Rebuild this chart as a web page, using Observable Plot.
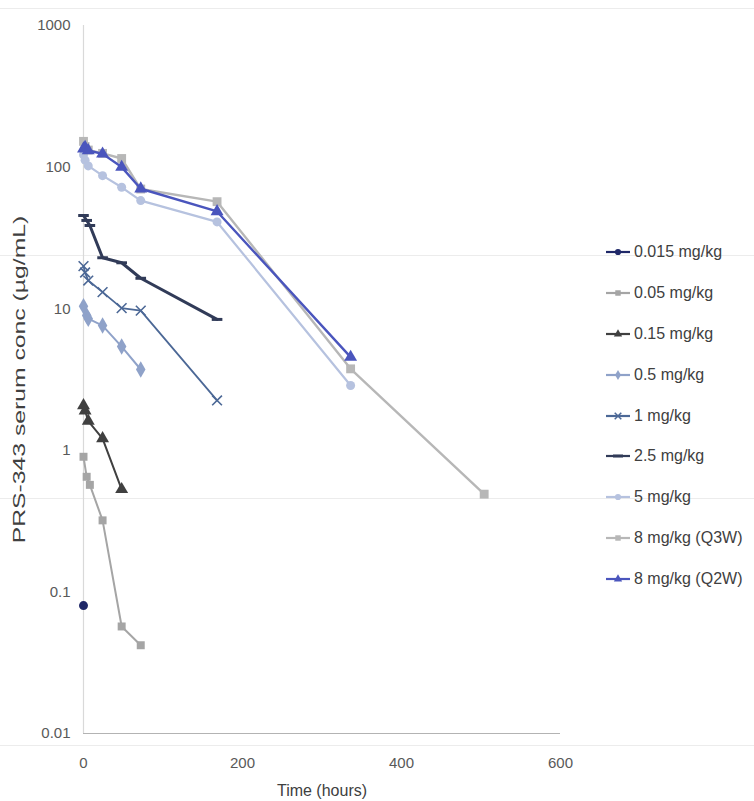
<!DOCTYPE html>
<html>
<head>
<meta charset="utf-8">
<script src="https://cdn.jsdelivr.net/npm/d3@7"></script>
<script src="https://cdn.jsdelivr.net/npm/@observablehq/plot@0.6"></script>
<style>
  html, body { margin: 0; padding: 0; background: #fff; }
  #wrap { position: relative; width: 754px; height: 801px; overflow: hidden; font-family: "Liberation Sans", Arial, sans-serif; }
  .seam { position: absolute; left: 0; width: 754px; height: 1px; background: #ececec; }
  #chart { position: absolute; left: 0; top: 0; }
  #legend { position: absolute; left: 604px; top: 232px; }
  .item { height: 40.8px; display: flex; align-items: center; font-size: 16px; color: #404040; white-space: nowrap; }
  .item svg { margin-right: 2px; }
</style>
</head>
<body>
<div id="wrap">
  <div class="seam" style="top:8px"></div>
  <div class="seam" style="top:255px"></div>
  <div class="seam" style="top:498px"></div>
  <div class="seam" style="top:745px"></div>
  <div id="chart"></div>
  <div id="legend"></div>
</div>
<script>
// ---- data ----
const seriesNames = ["0.015 mg/kg","0.05 mg/kg","0.15 mg/kg","0.5 mg/kg","1 mg/kg","2.5 mg/kg","5 mg/kg","8 mg/kg (Q3W)","8 mg/kg (Q2W)"];

const t_0015 = [0];
const c_0015 = [0.08];
const t_005 = [0, 4, 8, 24, 48, 72];
const c_005 = [0.9, 0.65, 0.57, 0.32, 0.057, 0.042];
const t_015 = [0, 2, 6, 24, 48];
const c_015 = [2.07, 1.9, 1.61, 1.21, 0.53];
const t_05 = [0, 4, 6, 24, 48, 72];
const c_05 = [10.4, 8.95, 8.5, 7.6, 5.4, 3.72];
const t_1 = [0, 2, 6, 24, 48, 72, 168];
const c_1 = [20, 18, 15.8, 13.1, 10.1, 9.7, 2.25];
const t_25 = [0, 4, 8, 24, 48, 72, 168];
const c_25 = [45.5, 42, 38.7, 22.9, 21.1, 16.4, 8.4];
const t_5 = [0, 2, 6, 24, 48, 72, 168, 336];
const c_5 = [122, 112, 102, 87, 72, 58, 41, 2.87];
const t_8q3w = [0, 2, 6, 24, 48, 72, 168, 336, 504];
const c_8q3w = [152, 140, 132, 125, 115, 70, 57, 3.76, 0.49];
const t_8q2w = [0, 2, 6, 24, 48, 72, 168, 336];
const c_8q2w = [135, 138, 131, 124, 100, 70.3, 48.6, 4.55];

const xTicks = [0, 200, 400, 600];
const yTicks = [0.01, 0.1, 1, 10, 100, 1000];
const yTickLabels = ["0.01", "0.1", "1", "10", "100", "1000"];
const xTitle = "Time (hours)";
const yTitle = "PRS-343 serum conc (µg/mL)";

// ---- styles ----
const dash = { draw(ctx, size) { const r = Math.sqrt(size) * 0.75; ctx.moveTo(-r, 0); ctx.lineTo(r, 0); } };
const styles = [
  { color: "#1f2868", symbol: "circle",   filled: true,  r: 4.5, sw: 2 },
  { color: "#a5a5a5", symbol: "square",   filled: true,  r: 4.5, sw: 2 },
  { color: "#404040", symbol: "triangle", filled: true,  r: 4.8, sw: 2 },
  { color: "#8fa2c9", symbol: "diamond",  filled: true,  r: 5,   sw: 2 },
  { color: "#4c6896", symbol: "times",    filled: false, r: 4.5, sw: 1.8 },
  { color: "#313b58", symbol: dash,       filled: false, r: 4,   sw: 3 },
  { color: "#b6c2df", symbol: "circle",   filled: true,  r: 4.5, sw: 2.2 },
  { color: "#b7b7b7", symbol: "square",   filled: true,  r: 5,   sw: 2.4 },
  { color: "#4a55bd", symbol: "triangle", filled: true,  r: 4.8, sw: 2.4 }
];

const allT = [t_0015, t_005, t_015, t_05, t_1, t_25, t_5, t_8q3w, t_8q2w];
const allC = [c_0015, c_005, c_015, c_05, c_1, c_25, c_5, c_8q3w, c_8q2w];
const tables = allT.map((ts, i) => ts.map((t, j) => ({ series: seriesNames[i], t, c: allC[i][j] })));

const marks = [
  Plot.ruleX([0], { stroke: "#d9d9d9", strokeWidth: 1.2 }),
  Plot.ruleY([0.01], { stroke: "#b3b3b3", strokeWidth: 1.2 })
];
tables.forEach((rows, i) => {
  const s = styles[i];
  if (rows.length > 1) marks.push(Plot.line(rows, { x: "t", y: "c", stroke: s.color, strokeWidth: s.sw }));
  marks.push(Plot.dot(rows, {
    x: "t", y: "c", symbol: () => s.symbol, r: s.r,
    fill: s.filled ? s.color : "none",
    stroke: s.filled ? "none" : s.color,
    strokeWidth: s.filled ? 0 : (s.symbol === dash ? 3 : 1.6)
  }));
});

const chart = Plot.plot({
  width: 754,
  height: 801,
  marginLeft: 83,
  marginRight: 194,
  marginTop: 25,
  marginBottom: 68,
  style: { fontFamily: "'Liberation Sans', Arial, sans-serif", fontSize: "15px", color: "#595959", background: "transparent", overflow: "visible" },
  x: { domain: [0, 600], ticks: xTicks, tickSize: 0, tickPadding: 24, label: xTitle, labelArrow: "none", labelAnchor: "center", labelOffset: 62 },
  y: { type: "log", domain: [0.01, 1000], ticks: yTicks, tickFormat: (d) => yTickLabels[yTicks.indexOf(d)] ?? "", tickSize: 0, tickPadding: 13, label: yTitle, labelArrow: "none", labelAnchor: "center", labelOffset: 70 },
  marks
});
document.getElementById("chart").appendChild(chart);

// axis label styling
const svg = d3.select(chart);
svg.selectAll('[aria-label="x-axis label"] text').text(xTitle)
  .style("font-size", "16px").style("fill", "#404040");
svg.selectAll('[aria-label="y-axis label"] text').text(yTitle)
  .style("font-size", "16.5px").style("fill", "#404040")
  .each(function () {
    const tr = this.getAttribute("transform") || "";
    this.setAttribute("transform", tr + " scale(1.5,1)");
  });

// legend
const legend = document.getElementById("legend");
const ns = "http://www.w3.org/2000/svg";
seriesNames.forEach((name, i) => {
  const s = styles[i];
  const item = document.createElement("div");
  item.className = "item";
  const sv = document.createElementNS(ns, "svg");
  sv.setAttribute("width", 28); sv.setAttribute("height", 14);
  const ln = document.createElementNS(ns, "line");
  ln.setAttribute("x1", 2); ln.setAttribute("x2", 26); ln.setAttribute("y1", 7); ln.setAttribute("y2", 7);
  ln.setAttribute("stroke", s.color); ln.setAttribute("stroke-width", 2.2);
  sv.appendChild(ln);
  const path = document.createElementNS(ns, "path");
  let d;
  if (s.symbol === dash) d = "M-5,0L5,0";
  else {
    const map = { circle: d3.symbolCircle, square: d3.symbolSquare, triangle: d3.symbolTriangle, diamond: d3.symbolDiamond, times: d3.symbolTimes };
    d = d3.symbol(map[s.symbol], 30)();
  }
  path.setAttribute("d", d);
  path.setAttribute("transform", "translate(14,7)");
  path.setAttribute("fill", s.filled ? s.color : "none");
  path.setAttribute("stroke", s.filled ? "none" : s.color);
  path.setAttribute("stroke-width", s.symbol === dash ? 3 : 1.5);
  sv.appendChild(path);
  item.appendChild(sv);
  const span = document.createElement("span");
  span.textContent = name;
  item.appendChild(span);
  legend.appendChild(item);
});
</script>
</body>
</html>
